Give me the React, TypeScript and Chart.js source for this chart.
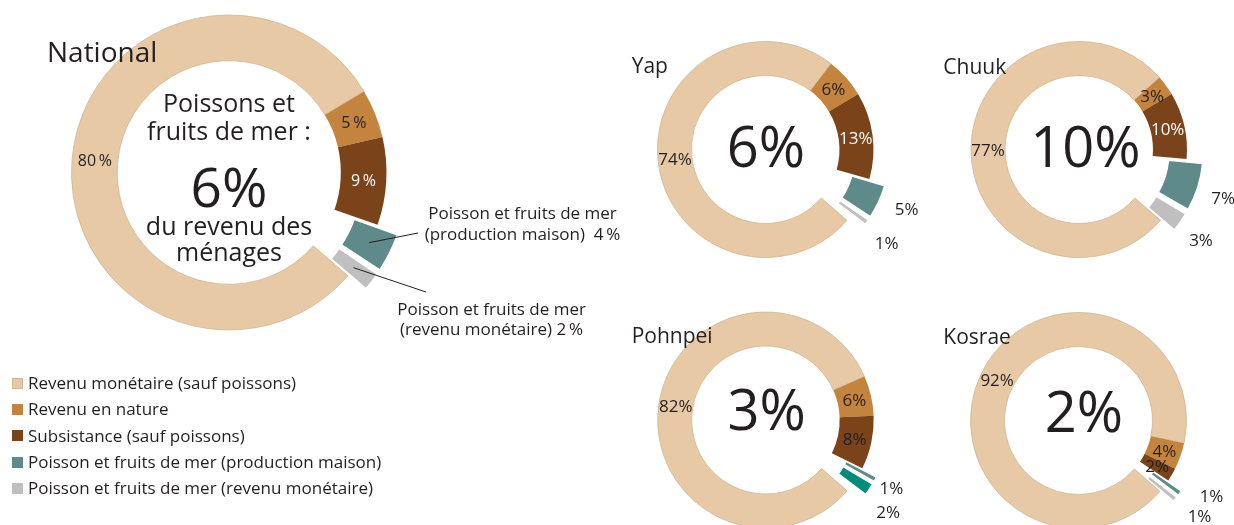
import React, { useEffect, useRef } from 'react';
import { Chart, registerables } from 'chart.js';

Chart.register(...registerables);

const W = 1234;
const H = 525;
const FONT = '"Open Sans", "Noto Sans", sans-serif';
const INK = '#231f20';

// ---- data ----
const categories = [
  'Revenu monétaire (sauf poissons)',
  'Revenu en nature',
  'Subsistance (sauf poissons)',
  'Poisson et fruits de mer (production maison)',
  'Poisson et fruits de mer (revenu monétaire)',
];
const regions = ['National', 'Yap', 'Chuuk', 'Pohnpei', 'Kosrae'];
const nationalValues = [80, 5, 9, 4, 2];
const yapValues = [74, 6, 13, 5, 1];
const chuukValues = [77, 3, 10, 7, 3];
const pohnpeiValues = [82, 6, 8, 1, 2];
const kosraeValues = [92, 4, 2, 1, 1];
const fishShares = ['6%', '6%', '10%', '3%', '2%'];

// ---- styles ----
const baseColors = ['#E8C9A6', '#C4843E', '#7A4319', '#5E8B89', '#BFBFBF'];
const pohnpeiColors = ['#E8C9A6', '#C4843E', '#7A4319', '#5E8B89', '#008C79'];

type Spec = {
  name: string;
  values: number[];
  colors: string[];
  labelColors: string[];
  cx: number;
  cy: number;
  R: number;
  cutout: string;
  explode: number;
  labelSize: number;
  sep: string;
  outerGap: number;
  nudges: number[][];
  callouts?: number[][];
};

const specs: Spec[] = [
  { name: regions[0], values: nationalValues, colors: baseColors, labelColors: [INK, INK, '#fff'], cx: 229, cy: 172.5, R: 157.5, cutout: '71%', explode: 22, labelSize: 16, sep: '\u2009', outerGap: 0, nudges: [[0, 0], [0, 0]], callouts: [[418, 233], [426, 292]] },
  { name: regions[1], values: yapValues, colors: baseColors, labelColors: [INK, INK, '#fff'], cx: 765.5, cy: 149.5, R: 108, cutout: '68.5%', explode: 16.5, labelSize: 17, sep: '', outerGap: 45, nudges: [[-2, 0], [2, 0]] },
  { name: regions[2], values: chuukValues, colors: baseColors, labelColors: [INK, INK, '#fff'], cx: 1079, cy: 149.5, R: 108, cutout: '68.5%', explode: 16.5, labelSize: 17, sep: '', outerGap: 44, nudges: [[1, 0], [1, 0]] },
  { name: regions[3], values: pohnpeiValues, colors: pohnpeiColors, labelColors: [INK, INK, INK], cx: 765.7, cy: 420, R: 108, cutout: '68.5%', explode: 16.5, labelSize: 17, sep: '', outerGap: 45, nudges: [[0, -10], [3, 0]] },
  { name: regions[4], values: kosraeValues, colors: baseColors, labelColors: [INK, INK, INK], cx: 1078.5, cy: 420.5, R: 108, cutout: '68.5%', explode: 16.5, labelSize: 17, sep: '', outerGap: 45, nudges: [[-6, 0], [-1, 1]] },
];

const ROTATION = 131;

function explodeOffset(value: number, d: number) {
  const circ = (value / 100) * Math.PI * 2;
  const fix = 1 - Math.sin(Math.min(Math.PI, circ));
  return (4 * d) / (1 + fix);
}

function makeLabelPlugin(spec: Spec) {
  return {
    id: 'arcLabels_' + spec.name,
    afterDatasetsDraw(chart: any) {
      const ctx = chart.ctx as CanvasRenderingContext2D;
      const meta = chart.getDatasetMeta(0);
      const vals = chart.data.datasets[0].data as number[];
      ctx.save();
      meta.data.forEach((arc: any, i: number) => {
        const { x, y, startAngle, endAngle, innerRadius, outerRadius } = arc.getProps(
          ['x', 'y', 'startAngle', 'endAngle', 'innerRadius', 'outerRadius'],
          true
        );
        const mid = (startAngle + endAngle) / 2;
        const rMid = (innerRadius + outerRadius) / 2;
        const fs = spec.labelSize;
        ctx.font = `${fs}px ${FONT}`;
        ctx.textAlign = 'center';
        ctx.textBaseline = 'alphabetic';
        const txt = vals[i] + spec.sep + '%';
        if (i < 3) {
          ctx.fillStyle = spec.labelColors[i];
          ctx.fillText(txt, x + Math.cos(mid) * rMid, y + Math.sin(mid) * rMid + 0.357 * fs);
        } else if (spec.callouts) {
          const off = (arc.options.offset || 0) / 4;
          const circ = endAngle - startAngle;
          const s = off * (1 + (1 - Math.sin(Math.min(Math.PI, circ))));
          const sx = x + Math.cos(mid) * (rMid + s);
          const sy = y + Math.sin(mid) * (rMid + s);
          const [ex, ey] = spec.callouts[i - 3];
          ctx.strokeStyle = INK;
          ctx.lineWidth = 1;
          ctx.beginPath();
          ctx.moveTo(sx, sy);
          ctx.lineTo(ex, ey);
          ctx.stroke();
        } else {
          const [da, dr] = spec.nudges[i - 3];
          const a = mid + (da * Math.PI) / 180;
          const r = outerRadius + spec.outerGap + dr;
          ctx.fillStyle = INK;
          ctx.fillText(txt, x + Math.cos(a) * r, y + Math.sin(a) * r + 0.357 * fs);
        }
      });
      ctx.restore();
    },
  };
}

function Donut({ spec }: { spec: Spec }) {
  const ref = useRef<HTMLCanvasElement>(null);
  useEffect(() => {
    if (!ref.current) return;
    const s = 40;
    const total = spec.values.reduce((a, b) => a + b, 0);
    const chart = new Chart(ref.current, {
      type: 'doughnut',
      data: {
        labels: categories,
        datasets: [
          {
            data: spec.values,
            backgroundColor: spec.colors,
            borderColor: ['#CDB893', spec.colors[1], spec.colors[2], '#ffffff', '#ffffff'],
            borderWidth: [0.8, 0, 0, 1.2, 1.2],
            offset: (c: any) => (c.dataIndex < 3 ? 0 : explodeOffset(spec.values[c.dataIndex], spec.explode)),
            clip: false as any,
          } as any,
        ],
      },
      options: {
        responsive: false,
        maintainAspectRatio: false,
        animation: false,
        events: [],
        radius: spec.R,
        cutout: spec.cutout,
        rotation: ROTATION,
        circumference: total * 3.6,
        layout: {
          padding: {
            left: spec.cx - s,
            right: W - spec.cx - s,
            top: spec.cy - s,
            bottom: H - spec.cy - s,
          },
        },
        plugins: {
          legend: { display: false },
          tooltip: { enabled: false },
          title: { display: false },
        },
      } as any,
      plugins: [makeLabelPlugin(spec)],
    });
    return () => chart.destroy();
  }, [spec]);
  return (
    <canvas
      ref={ref}
      width={W}
      height={H}
      style={{ position: 'absolute', left: 0, top: 0, width: W, height: H }}
    />
  );
}

type TextSpec = { t: string; x: number; b: number; fs: number; center?: boolean };

const texts: TextSpec[] = [
  { t: 'National', x: 47, b: 61.5, fs: 28 },
  { t: 'Poissons et', x: 229, b: 112, fs: 25, center: true },
  { t: 'fruits de mer :', x: 229, b: 140, fs: 25, center: true },
  { t: fishShares[0], x: 229, b: 207, fs: 55, center: true },
  { t: 'du revenu des', x: 229, b: 235, fs: 25, center: true },
  { t: 'ménages', x: 229, b: 261, fs: 25, center: true },
  { t: 'Poisson et fruits de mer', x: 522.5, b: 219.3, fs: 17, center: true },
  { t: '(production maison)\u00a0 4\u2009%', x: 522.5, b: 240, fs: 17, center: true },
  { t: 'Poisson et fruits de mer', x: 491.6, b: 315, fs: 17, center: true },
  { t: '(revenu monétaire) 2\u2009%', x: 491.6, b: 335, fs: 17, center: true },
  { t: regions[1], x: 631.7, b: 73.3, fs: 21 },
  { t: regions[2], x: 943.3, b: 74.3, fs: 21 },
  { t: regions[3], x: 631.7, b: 344, fs: 21 },
  { t: regions[4], x: 943.3, b: 345, fs: 21 },
  { t: fishShares[1], x: 765.8, b: 166.7, fs: 56, center: true },
  { t: fishShares[2], x: 1085.5, b: 166.7, fs: 56, center: true },
  { t: fishShares[3], x: 766.7, b: 430, fs: 56, center: true },
  { t: fishShares[4], x: 1084, b: 431.7, fs: 56, center: true },
];

function Txt({ s }: { s: TextSpec }) {
  const top = s.b - 0.888 * s.fs;
  const style: React.CSSProperties = {
    position: 'absolute',
    top,
    fontSize: s.fs,
    lineHeight: 1,
    whiteSpace: 'nowrap',
    fontFamily: FONT,
    color: INK,
  };
  if (s.center) {
    style.left = s.x - 300;
    style.width = 600;
    style.textAlign = 'center';
  } else {
    style.left = s.x;
  }
  return <div style={style}>{s.t}</div>;
}

const LEGEND_TOP = 383.3;
const LEGEND_STEP = 26.25;

export default function App() {
  return (
    <div
      style={{
        position: 'fixed',
        left: 0,
        top: 0,
        width: W,
        height: H,
        overflow: 'hidden',
        background: '#ffffff',
        fontFamily: FONT,
      }}
    >
      {specs.map((sp) => (
        <Donut key={sp.name} spec={sp} />
      ))}
      {texts.map((s, i) => (
        <Txt key={i} s={s} />
      ))}
      {categories.map((c, i) => {
        const cy = LEGEND_TOP + i * LEGEND_STEP;
        return (
          <React.Fragment key={c}>
            <div
              style={{
                position: 'absolute',
                left: 12,
                top: cy - 5.5,
                width: 11,
                height: 11,
                boxSizing: 'border-box',
                background: baseColors[i],
                border: i === 0 ? '1px solid #CDB893' : 'none',
              }}
            />
            <div
              style={{
                position: 'absolute',
                left: 28,
                top: cy + 6 - 0.888 * 17,
                fontSize: 17,
                lineHeight: 1,
                whiteSpace: 'nowrap',
                color: INK,
                fontFamily: FONT,
              }}
            >
              {c}
            </div>
          </React.Fragment>
        );
      })}
    </div>
  );
}
